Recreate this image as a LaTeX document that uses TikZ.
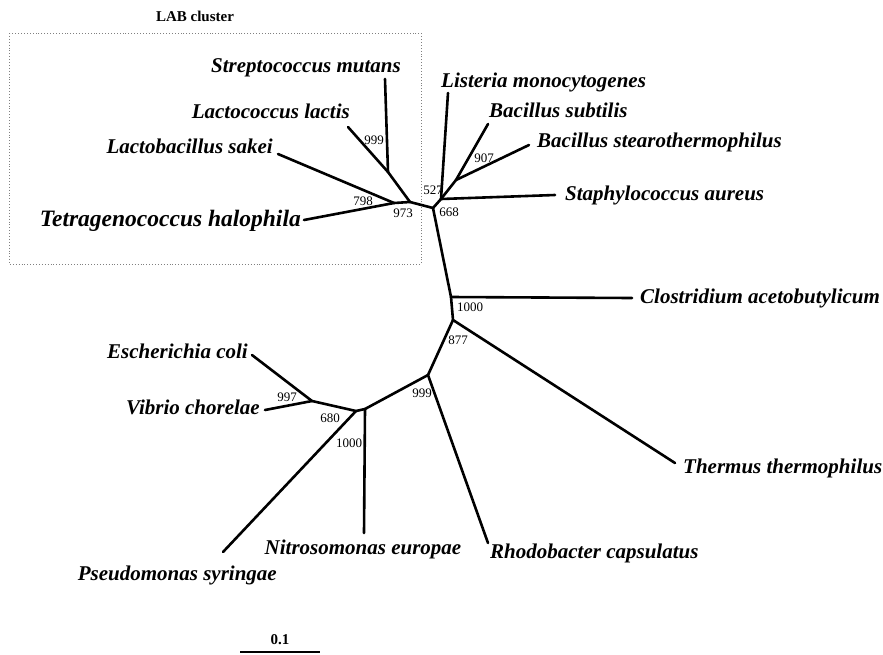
\documentclass[tikz,border=0pt]{standalone}
\usepackage{fontspec}
\setmainfont{Liberation Serif}

\begin{document}
\begin{tikzpicture}[x=1pt, y=-1pt,
    branch/.style={line width=2.6pt, line cap=round, line join=round},
    species/.style={font=\fontsize{21}{21}\selectfont\bfseries\itshape, inner sep=0pt},
    bigspecies/.style={font=\fontsize{23.5}{23.5}\selectfont\bfseries\itshape, inner sep=0pt},
    boot/.style={font=\fontsize{13}{13}\selectfont, inner sep=0pt},
    heading/.style={font=\fontsize{15}{15}\selectfont\bfseries, inner sep=0pt}]
    \useasboundingbox (0,0) rectangle (883,654);

    % LAB box
    \draw[gray, line width=0.9pt, dotted] (9,33) rectangle (421,264);
    \node[heading] (labtitle) at (195,16) {LAB cluster};

    % internal points
    \coordinate (n999a) at (388,172);
    \coordinate (n798) at (394,203);
    \coordinate (n973) at (410,202);
    \coordinate (n668) at (433,208);
    \coordinate (n527) at (441,199);
    \coordinate (n907) at (456,180);
    \coordinate (n1000a) at (451,297);
    \coordinate (n877) at (453,320);
    \coordinate (n999b) at (428,375);
    \coordinate (n1000b) at (365,409);
    \coordinate (n680) at (356,411);
    \coordinate (n997) at (312,401);

    % tips
    \coordinate (smut) at (385,79);
    \coordinate (llac) at (348,127);
    \coordinate (lsak) at (278,154);
    \coordinate (thal) at (304,220);
    \coordinate (lmon) at (448,93);
    \coordinate (bsub) at (488,124);
    \coordinate (bste) at (529,145);
    \coordinate (saur) at (555,195);
    \coordinate (cace) at (632,298);
    \coordinate (tthe) at (675,463);
    \coordinate (rcap) at (488,543);
    \coordinate (neur) at (364,533);
    \coordinate (psyr) at (223,552);
    \coordinate (ecol) at (252,355);
    \coordinate (vcho) at (265,410);

    % branches
    \draw[branch] (smut) -- (n999a);
    \draw[branch] (llac) -- (n999a);
    \draw[branch] (n999a) -- (n973);
    \draw[branch] (lsak) -- (n798);
    \draw[branch] (thal) -- (n798);
    \draw[branch] (n798) -- (n973);
    \draw[branch] (n973) -- (n668);
    \draw[branch] (n668) -- (n527);
    \draw[branch] (lmon) -- (n527);
    \draw[branch] (bsub) -- (n907);
    \draw[branch] (bste) -- (n907);
    \draw[branch] (n907) -- (n527);
    \draw[branch] (n527) -- (saur);
    \draw[branch] (n668) -- (n1000a);
    \draw[branch] (n1000a) -- (cace);
    \draw[branch] (n1000a) -- (n877);
    \draw[branch] (n877) -- (tthe);
    \draw[branch] (n877) -- (n999b);
    \draw[branch] (n999b) -- (rcap);
    \draw[branch] (n999b) -- (n1000b);
    \draw[branch] (n1000b) -- (neur);
    \draw[branch] (n1000b) -- (n680);
    \draw[branch] (n680) -- (psyr);
    \draw[branch] (n680) -- (n997);
    \draw[branch] (n997) -- (ecol);
    \draw[branch] (n997) -- (vcho);

    % species
    \node[species, anchor=base] (smutname) at (306,72) {Streptococcus mutans};
    \node[species, anchor=base east] (llacname) at (350,118) {Lactococcus lactis};
    \node[species, anchor=base east] (lsakname) at (273,153) {Lactobacillus sakei};
    \node[bigspecies, anchor=base east] (thalname) at (301,226) {Tetragenococcus halophila};
    \node[species, anchor=base west] (lmonname) at (441,87) {Listeria monocytogenes};
    \node[species, anchor=base west] (bsubname) at (489,117) {Bacillus subtilis};
    \node[species, anchor=base west] (bstename) at (537,147) {Bacillus stearothermophilus};
    \node[species, anchor=base west] (saurname) at (565,200) {Staphylococcus aureus};
    \node[species, anchor=base west] (cacename) at (640,303) {Clostridium acetobutylicum};
    \node[species, anchor=base west] (tthename) at (683,473) {Thermus thermophilus};
    \node[species, anchor=base west] (rcapname) at (490,558) {Rhodobacter capsulatus};
    \node[species, anchor=base] (neurname) at (363,554) {Nitrosomonas europae};
    \node[species, anchor=base east] (psyrname) at (277,580) {Pseudomonas syringae};
    \node[species, anchor=base east] (ecolname) at (248,358) {Escherichia coli};
    \node[species, anchor=base east] (vchoname) at (260,414) {Vibrio chorelae};

    % bootstrap values
    \node[boot] (b999a) at (374,140) {999};
    \node[boot] (b798) at (363,201) {798};
    \node[boot] (b973) at (403,213) {973};
    \node[boot] (b527) at (433,190) {527};
    \node[boot] (b668) at (449,212) {668};
    \node[boot] (b907) at (484,158) {907};
    \node[boot] (b1000a) at (470,307) {1000};
    \node[boot] (b877) at (458,340) {877};
    \node[boot] (b999b) at (422,393) {999};
    \node[boot] (b997) at (287,397) {997};
    \node[boot] (b680) at (330,418) {680};
    \node[boot] (b1000b) at (349,443) {1000};

    % scale bar
    \coordinate (barl) at (240,652);
    \coordinate (barr) at (320,652);
    \draw[line width=1.4pt] (barl) -- (barr);
    \node[heading] (barlabel) at (280,640) {0.1};
\end{tikzpicture}
\end{document}
